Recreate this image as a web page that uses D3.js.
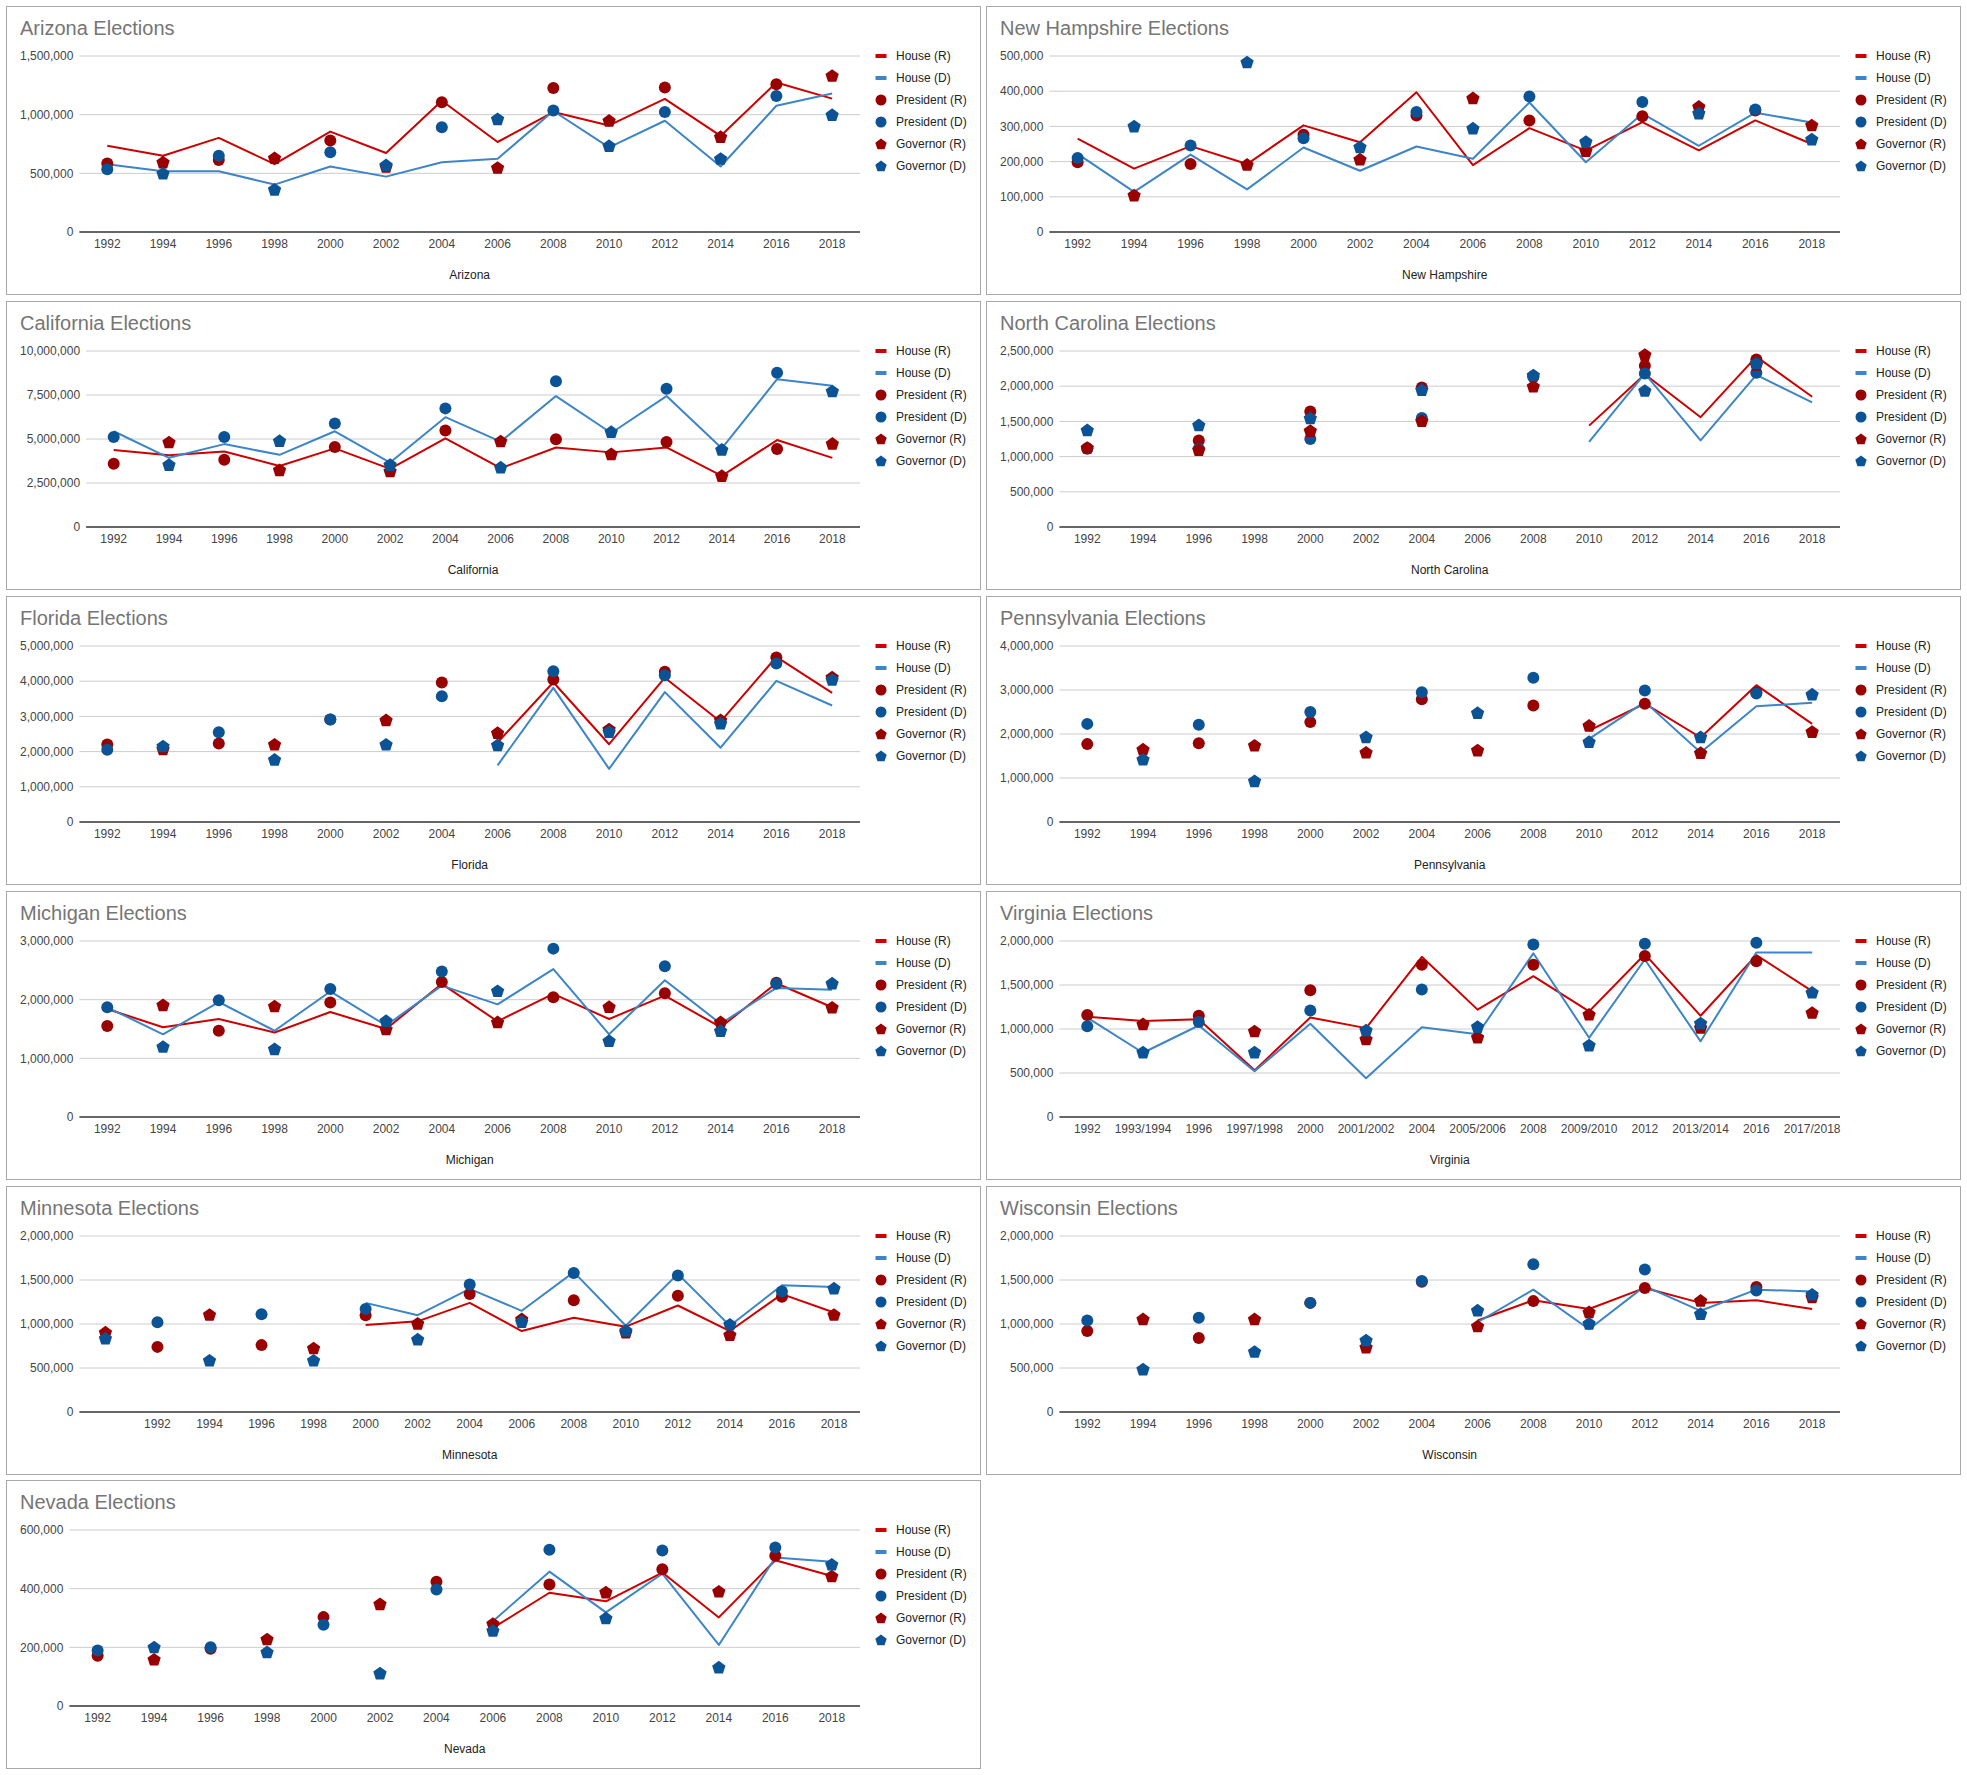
<!DOCTYPE html>
<html><head><meta charset="utf-8">
<script src="https://cdn.jsdelivr.net/npm/d3@7"></script>
<style>
body{margin:0;background:#fff;}
text{font-family:Arial,"Liberation Sans",sans-serif;}
</style>
</head><body>
<svg id="chart" width="1967" height="1775"></svg>
<script>
// ---------- categories ----------
const years = ["1992","1994","1996","1998","2000","2002","2004","2006","2008","2010","2012","2014","2016","2018"];
const virginiaYears = ["1992","1993/1994","1996","1997/1998","2000","2001/2002","2004","2005/2006","2008","2009/2010","2012","2013/2014","2016","2017/2018"];
const minnesotaYears = ["","1992","1994","1996","1998","2000","2002","2004","2006","2008","2010","2012","2014","2016","2018"];
const seriesNames = ["House (R)","House (D)","President (R)","President (D)","Governor (R)","Governor (D)"];

// ---------- tick values ----------
const azTicks = [0,500000,1000000,1500000];
const nhTicks = [0,100000,200000,300000,400000,500000];
const caTicks = [0,2500000,5000000,7500000,10000000];
const ncTicks = [0,500000,1000000,1500000,2000000,2500000];
const flTicks = [0,1000000,2000000,3000000,4000000,5000000];
const paTicks = [0,1000000,2000000,3000000,4000000];
const miTicks = [0,1000000,2000000,3000000];
const vaTicks = [0,500000,1000000,1500000,2000000];
const mnTicks = [0,500000,1000000,1500000,2000000];
const wiTicks = [0,500000,1000000,1500000,2000000];
const nvTicks = [0,200000,400000,600000];

// ---------- Arizona ----------
const azHouseR = [736000,650000,802000,578000,856000,673000,1119000,767000,1022000,908000,1134000,819000,1274000,1137000];
const azHouseD = [578000,518000,518000,404000,558000,472000,595000,624000,1031000,721000,948000,558000,1076000,1180000];
const azPresR = [584000,null,613000,null,779000,null,1105000,null,1228000,null,1231000,null,1260000,null];
const azPresD = [535000,null,650000,null,679000,null,893000,null,1036000,null,1022000,null,1160000,null];
const azGovR = [null,590000,null,627000,null,554000,null,544000,null,945000,null,807000,null,1328000];
const azGovD = [null,495000,null,358000,null,566000,null,959000,null,730000,null,621000,null,994000];

// ---------- New Hampshire ----------
const nhHouseR = [265000,180000,244000,193000,303000,255000,397000,190000,295000,231000,312000,232000,317000,250000];
const nhHouseD = [222000,114000,220000,121000,240000,174000,243000,208000,368000,198000,336000,245000,339000,311000];
const nhPresR = [198000,null,193000,null,276000,null,331000,null,317000,null,329000,null,345000,null];
const nhPresD = [210000,null,246000,null,266000,null,341000,null,385000,null,369000,null,348000,null];
const nhGovR = [null,103000,null,190000,null,205000,null,379000,null,229000,null,355000,null,302000];
const nhGovD = [null,299000,null,481000,null,240000,null,293000,null,255000,null,336000,null,262000];

// ---------- California ----------
const caHouseR = [4370000,4080000,4290000,3470000,4470000,3300000,5040000,3340000,4520000,4240000,4520000,2900000,4940000,3930000];
const caHouseD = [5440000,3930000,4710000,4100000,5440000,3660000,6240000,4850000,7440000,5340000,7440000,4470000,8400000,8020000];
const caPresR = [3590000,null,3820000,null,4540000,null,5480000,null,4980000,null,4830000,null,4430000,null];
const caPresD = [5110000,null,5110000,null,5880000,null,6740000,null,8280000,null,7850000,null,8760000,null];
const caGovR = [null,4790000,null,3210000,null,3150000,null,4850000,null,4120000,null,2880000,null,4710000];
const caGovD = [null,3510000,null,4870000,null,3510000,null,3360000,null,5380000,null,4370000,null,7690000];

// ---------- North Carolina ----------
const ncHouseR = [null,null,null,null,null,null,null,null,null,1440000,2170000,1560000,2420000,1850000];
const ncHouseD = [null,null,null,null,null,null,null,null,null,1210000,2180000,1230000,2160000,1770000];
const ncPresR = [1120000,null,1230000,null,1640000,null,1980000,null,2130000,null,2290000,null,2380000,null];
const ncPresD = [1110000,null,1110000,null,1250000,null,1550000,null,2140000,null,2180000,null,2190000,null];
const ncGovR = [1120000,null,1090000,null,1360000,null,1500000,null,1990000,null,2440000,null,2300000,null];
const ncGovD = [1370000,null,1440000,null,1540000,null,1940000,null,2150000,null,1930000,null,2320000,null];

// ---------- Florida ----------
const flHouseR = [null,null,null,null,null,null,null,2260000,3970000,2210000,4100000,2850000,4690000,3670000];
const flHouseD = [null,null,null,null,null,null,null,1610000,3810000,1510000,3690000,2110000,4010000,3310000];
const flPresR = [2200000,null,2230000,null,2910000,null,3960000,null,4050000,null,4270000,null,4670000,null];
const flPresD = [2050000,null,2550000,null,2910000,null,3570000,null,4280000,null,4170000,null,4500000,null];
const flGovR = [null,2060000,null,2190000,null,2880000,null,2520000,null,2620000,null,2880000,null,4100000];
const flGovD = [null,2140000,null,1760000,null,2190000,null,2170000,null,2550000,null,2790000,null,4030000];

// ---------- Pennsylvania ----------
const paHouseR = [null,null,null,null,null,null,null,null,null,2080000,2690000,1920000,3110000,2230000];
const paHouseD = [null,null,null,null,null,null,null,null,null,1890000,2730000,1580000,2630000,2710000];
const paPresR = [1770000,null,1790000,null,2270000,null,2790000,null,2650000,null,2690000,null,2950000,null];
const paPresD = [2230000,null,2210000,null,2500000,null,2950000,null,3280000,null,2990000,null,2920000,null];
const paGovR = [null,1640000,null,1730000,null,1570000,null,1620000,null,2180000,null,1560000,null,2040000];
const paGovD = [null,1410000,null,920000,null,1920000,null,2470000,null,1810000,null,1920000,null,2890000];

// ---------- Michigan ----------
const miHouseR = [1840000,1530000,1670000,1440000,1790000,1500000,2270000,1630000,2100000,1670000,2070000,1530000,2280000,1870000];
const miHouseD = [1870000,1410000,1960000,1470000,2140000,1560000,2240000,1920000,2520000,1410000,2330000,1590000,2200000,2170000];
const miPresR = [1550000,null,1470000,null,1950000,null,2300000,null,2040000,null,2110000,null,2290000,null];
const miPresD = [1870000,null,1990000,null,2180000,null,2480000,null,2870000,null,2570000,null,2270000,null];
const miGovR = [null,1900000,null,1880000,null,1490000,null,1610000,null,1870000,null,1610000,null,1860000];
const miGovD = [null,1190000,null,1150000,null,1630000,null,2140000,null,1290000,null,1460000,null,2270000];

// ---------- Virginia ----------
const vaHouseR = [1140000,1090000,1110000,530000,1130000,1010000,1820000,1220000,1600000,1200000,1850000,1150000,1840000,1430000];
const vaHouseD = [1130000,730000,1040000,520000,1060000,440000,1020000,940000,1860000,900000,1790000,860000,1870000,1870000];
const vaPresR = [1160000,null,1150000,null,1440000,null,1730000,null,1730000,null,1830000,null,1770000,null];
const vaPresD = [1030000,null,1080000,null,1210000,null,1450000,null,1960000,null,1970000,null,1980000,null];
const vaGovR = [null,1050000,null,970000,null,880000,null,900000,null,1160000,null,1010000,null,1180000];
const vaGovD = [null,730000,null,730000,null,980000,null,1020000,null,810000,null,1060000,null,1410000];

// ---------- Minnesota ----------
const mnHouseR = [null,null,null,null,null,990000,1030000,1240000,920000,1070000,970000,1210000,920000,1340000,1130000];
const mnHouseD = [null,null,null,null,null,1240000,1100000,1400000,1150000,1590000,980000,1570000,980000,1440000,1420000];
const mnPresR = [null,740000,null,760000,null,1100000,null,1340000,null,1270000,null,1320000,null,1310000,null];
const mnPresD = [null,1020000,null,1110000,null,1170000,null,1450000,null,1580000,null,1550000,null,1370000,null];
const mnGovR = [900000,null,1100000,null,720000,null,1000000,null,1050000,null,900000,null,870000,null,1100000];
const mnGovD = [830000,null,580000,null,580000,null,820000,null,1020000,null,920000,null,990000,null,1400000];

// ---------- Wisconsin ----------
const wiHouseR = [null,null,null,null,null,null,null,1040000,1270000,1170000,1410000,1240000,1270000,1170000];
const wiHouseD = [null,null,null,null,null,null,null,1020000,1390000,940000,1430000,1150000,1390000,1370000];
const wiPresR = [920000,null,840000,null,1240000,null,1480000,null,1260000,null,1410000,null,1420000,null];
const wiPresD = [1040000,null,1070000,null,1240000,null,1490000,null,1680000,null,1620000,null,1380000,null];
const wiGovR = [null,1050000,null,1050000,null,730000,null,970000,null,1130000,null,1260000,null,1300000];
const wiGovD = [null,480000,null,680000,null,810000,null,1150000,null,1000000,null,1110000,null,1330000];

// ---------- Nevada ----------
const nvHouseR = [null,null,null,null,null,null,null,266000,386000,357000,455000,302000,497000,443000];
const nvHouseD = [null,null,null,null,null,null,null,289000,458000,319000,451000,208000,506000,492000];
const nvPresR = [171000,null,195000,null,303000,null,424000,null,414000,null,466000,null,512000,null];
const nvPresD = [189000,null,200000,null,277000,null,397000,null,533000,null,530000,null,540000,null];
const nvGovR = [null,157000,null,226000,null,346000,null,279000,null,386000,null,389000,null,441000];
const nvGovD = [null,199000,null,182000,null,110000,null,255000,null,298000,null,130000,null,481000];

// ---------- panel table built from the arrays ----------
const panels = [
  {name:"Arizona", cats:years, ticks:azTicks, series:[azHouseR,azHouseD,azPresR,azPresD,azGovR,azGovD]},
  {name:"New Hampshire", cats:years, ticks:nhTicks, series:[nhHouseR,nhHouseD,nhPresR,nhPresD,nhGovR,nhGovD]},
  {name:"California", cats:years, ticks:caTicks, series:[caHouseR,caHouseD,caPresR,caPresD,caGovR,caGovD]},
  {name:"North Carolina", cats:years, ticks:ncTicks, series:[ncHouseR,ncHouseD,ncPresR,ncPresD,ncGovR,ncGovD]},
  {name:"Florida", cats:years, ticks:flTicks, series:[flHouseR,flHouseD,flPresR,flPresD,flGovR,flGovD]},
  {name:"Pennsylvania", cats:years, ticks:paTicks, series:[paHouseR,paHouseD,paPresR,paPresD,paGovR,paGovD]},
  {name:"Michigan", cats:years, ticks:miTicks, series:[miHouseR,miHouseD,miPresR,miPresD,miGovR,miGovD]},
  {name:"Virginia", cats:virginiaYears, ticks:vaTicks, series:[vaHouseR,vaHouseD,vaPresR,vaPresD,vaGovR,vaGovD]},
  {name:"Minnesota", cats:minnesotaYears, ticks:mnTicks, series:[mnHouseR,mnHouseD,mnPresR,mnPresD,mnGovR,mnGovD]},
  {name:"Wisconsin", cats:years, ticks:wiTicks, series:[wiHouseR,wiHouseD,wiPresR,wiPresD,wiGovR,wiGovD]},
  {name:"Nevada", cats:years, ticks:nvTicks, series:[nvHouseR,nvHouseD,nvPresR,nvPresD,nvGovR,nvGovD]}
];

// ---------- styles ----------
const colors = ["#cc0000","#3d85c6","#990000","#0b5394","#990000","#0b5394"];
const kinds = ["line","line","circle","circle","pentagon","pentagon"];
const pentagonType = {
  draw(ctx, size){
    const r = Math.sqrt(size / 2.3776);
    for (let k = 0; k < 5; k++){
      const a = -Math.PI/2 + k*2*Math.PI/5;
      const px = r*Math.cos(a), py = r*Math.sin(a);
      if (k) ctx.lineTo(px,py); else ctx.moveTo(px,py);
    }
    ctx.closePath();
  }
};
const pentPath = d3.symbol().type(pentagonType).size(2.3776*49)();
const pentPathLegend = d3.symbol().type(pentagonType).size(2.3776*36)();

const svg = d3.select("#chart");
svg.append("rect").attr("width",1967).attr("height",1775).attr("fill","#fff");

const colX = [6, 986];
const rowY = [6, 301, 596, 891, 1186, 1480];
const panelW = 974, panelH = 288;
const fmt = d3.format(",");

panels.forEach((p, i) => {
  const px = colX[i % 2], py = rowY[Math.floor(i / 2)];
  const g = svg.append("g").attr("transform", `translate(${px},${py})`);
  g.append("rect").attr("x",0.5).attr("y",0.5).attr("width",panelW).attr("height",panelH)
    .attr("fill","#fff").attr("stroke","#a8a8a8").attr("stroke-width",1);

  g.append("text").attr("x",14).attr("y",29).attr("font-size",20).attr("fill","#757575")
    .text(p.name + " Elections");

  // measure widest y label
  let maxW = 0;
  p.ticks.forEach(t => {
    const tmp = g.append("text").attr("font-size",12).text(fmt(t));
    maxW = Math.max(maxW, tmp.node().getComputedTextLength());
    tmp.remove();
  });
  const plotL = 14 + maxW + 6, plotR = 854;
  const yTop = 50, yBot = 226;
  const y = d3.scaleLinear().domain([0, d3.max(p.ticks)]).range([yBot, yTop]);
  const x = d3.scaleBand().domain(p.cats).range([plotL, plotR]);
  const cx = c => x(c) + x.bandwidth()/2;

  // gridlines + y labels
  p.ticks.forEach(t => {
    if (t !== 0) {
      g.append("line").attr("x1",plotL).attr("x2",plotR).attr("y1",y(t)).attr("y2",y(t))
        .attr("stroke","#cccccc").attr("stroke-width",1);
    }
    g.append("text").attr("x",plotL - 6).attr("y",y(t)).attr("dy","0.35em")
      .attr("text-anchor","end").attr("font-size",12).attr("fill","#444").text(fmt(t));
  });
  g.append("line").attr("x1",plotL).attr("x2",plotR).attr("y1",yBot).attr("y2",yBot)
    .attr("stroke","#333").attr("stroke-width",1.4);

  // x labels
  p.cats.forEach(c => {
    g.append("text").attr("x",cx(c)).attr("y",242).attr("text-anchor","middle")
      .attr("font-size",12).attr("fill","#444").text(c);
  });
  g.append("text").attr("x",(plotL+plotR)/2).attr("y",273).attr("text-anchor","middle")
    .attr("font-size",12).attr("fill","#222").text(p.name);

  // series
  p.series.forEach((vals, si) => {
    const pts = vals.map((v, k) => ({c: p.cats[k], v}));
    if (kinds[si] === "line") {
      const line = d3.line().defined(d => d.v != null).x(d => cx(d.c)).y(d => y(d.v));
      g.append("path").datum(pts).attr("d", line).attr("fill","none")
        .attr("stroke", colors[si]).attr("stroke-width", 2).attr("stroke-linejoin","round");
    } else if (kinds[si] === "circle") {
      g.selectAll(null).data(pts.filter(d => d.v != null)).enter().append("circle")
        .attr("cx", d => cx(d.c)).attr("cy", d => y(d.v)).attr("r", 6).attr("fill", colors[si]);
    } else {
      g.selectAll(null).data(pts.filter(d => d.v != null)).enter().append("path")
        .attr("d", pentPath).attr("transform", d => `translate(${cx(d.c)},${y(d.v)})`)
        .attr("fill", colors[si]);
    }
  });

  // legend
  seriesNames.forEach((s, si) => {
    const ly = 50 + si*22;
    const mx = 875;
    if (kinds[si] === "line") {
      g.append("rect").attr("x", mx-5.5).attr("y", ly-2).attr("width",11).attr("height",4).attr("fill",colors[si]);
    } else if (kinds[si] === "circle") {
      g.append("circle").attr("cx",mx).attr("cy",ly).attr("r",5.5).attr("fill",colors[si]);
    } else {
      g.append("path").attr("d",pentPathLegend).attr("transform",`translate(${mx},${ly+0.5})`).attr("fill",colors[si]);
    }
    g.append("text").attr("x",890).attr("y",ly).attr("dy","0.35em").attr("font-size",12)
      .attr("fill","#222").text(s);
  });
});
</script>
</body></html>
